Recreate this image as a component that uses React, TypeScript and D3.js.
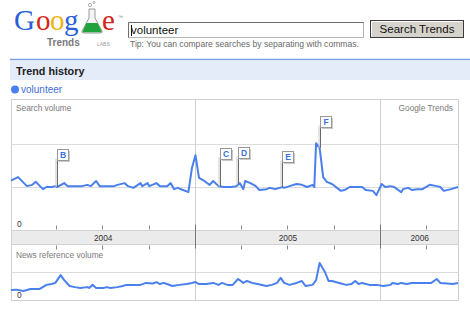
import React from "react";
import * as d3 from "d3";

// Weekly samples: [weeks since 2004-01-03, relative volume]
const searchSeries: [number, number][] = [
  [0, 1.15], [2, 1.23], [4.5, 1.02], [6, 1.05], [7, 1.12], [9, 0.95], [10, 1.0],
  [11.5, 1.0], [12.5, 1.02], [13, 1.0], [15, 1.09], [16, 1.02], [18.5, 1.02],
  [20, 1.02], [21.5, 1.05], [22.5, 1.02], [24, 1.14], [25, 1.02], [27, 1.02],
  [29, 1.02], [30, 1.05], [32, 1.09], [33, 1.02], [34.5, 0.98], [36.5, 1.09],
  [37, 1.02], [38.5, 1.09], [39, 1.02], [41, 1.09], [42, 1.02], [44, 1.02],
  [45, 1.09], [46, 0.95], [47, 0.98], [48.5, 0.93], [50, 0.88], [51, 1.44],
  [52, 1.74], [53, 1.21], [54.5, 1.14], [56, 1.05], [57, 1.14], [58.5, 1.02],
  [60, 1.0], [62, 1.0], [63.5, 1.02], [64.5, 1.09], [65.5, 0.95], [66, 1.14],
  [67.5, 1.09], [69, 1.02], [70, 0.93], [72, 0.95], [73, 0.98], [74.5, 0.95],
  [76.5, 1.0], [77, 0.98], [78.5, 1.02], [80.5, 1.07], [82, 1.05], [83.5, 1.0],
  [85, 1.05], [85.5, 1.0], [86, 2.02], [87, 1.91], [88, 1.23], [89, 1.12],
  [90.5, 1.07], [93, 0.91], [94, 0.93], [95.5, 1.0], [97.5, 1.0], [99, 1.0],
  [100, 0.93], [102, 0.91], [103, 0.81], [104.5, 1.07], [105.5, 1.0], [107, 1.02],
  [108, 1.0], [110, 0.88], [110.5, 0.95], [112, 0.98], [113, 0.93], [114.5, 0.95],
  [116, 0.95], [118, 1.05], [120, 1.02], [121, 1.0], [122, 0.91], [124, 0.95],
  [126, 1.0],
];

const newsSeries: [number, number][] = [
  [0, 0.36], [1.5, 0.37], [3.5, 0.32], [5.5, 0.39], [8, 0.39], [10, 0.54],
  [11.5, 0.57], [12.5, 0.61], [14, 0.89], [15, 0.71], [16.5, 0.5], [18, 0.46],
  [19.5, 0.43], [21.5, 0.46], [22, 0.43], [23, 0.54], [24, 0.43], [26, 0.43],
  [27, 0.46], [28, 0.43], [30, 0.46], [31.5, 0.5], [32.5, 0.54], [34.5, 0.54],
  [36.5, 0.54], [38, 0.61], [40, 0.59], [41, 0.64], [42, 0.57], [43, 0.61],
  [44, 0.57], [45.5, 0.5], [47.5, 0.54], [49.5, 0.57], [51, 0.61], [52, 0.64],
  [53, 0.57], [55, 0.57], [57, 0.61], [58.5, 0.54], [59.5, 0.61], [61, 0.54],
  [62.5, 0.54], [64, 0.75], [65.5, 0.61], [66.5, 0.68], [68, 0.61], [69.5, 0.57],
  [72, 0.5], [73.5, 0.54], [75, 0.61], [76, 0.79], [77, 0.61], [78.5, 0.54],
  [80.5, 0.61], [82, 0.68], [83, 0.5], [85, 0.54], [86, 0.71], [87, 1.32],
  [88.5, 1.0], [89.5, 0.68], [90.5, 0.68], [92.5, 0.61], [94.5, 0.54], [96, 0.57],
  [97, 0.68], [98, 0.57], [99, 0.61], [101, 0.54], [103, 0.54], [105, 0.5],
  [107, 0.54], [107.5, 0.61], [109, 0.57], [110, 0.61], [111.5, 0.57], [113, 0.61],
  [114, 0.61], [116, 0.61], [118.5, 0.61], [120, 0.75], [121, 0.61], [123, 0.59],
  [124.5, 0.57], [126, 0.61],
];

// News headline markers
const flagLetters = ["B", "C", "D", "E", "F"];
const flagWeeks = [13, 59, 64, 76.5, 87];
const flagLevels = [1.88, 1.9, 1.92, 1.84, 2.65];

const yearLabels = [2004, 2005, 2006];
const searchGrid = [1, 2];
const newsGrid = [1];

const START = new Date(2004, 0, 3);
const END = new Date(2006, 5, 5);
const weekToDate = (w: number) => new Date(START.getTime() + w * 7 * 86400000);

const FONT = "'Liberation Sans', Arial, sans-serif";
const BLUE = "#4a80ee";

export default function App() {
  const W = 470;
  const H = 309;
  const left = 11;
  const right = 459;
  const boxTop = 99.5;
  const boxBottom = 300.5;
  const bandTop = 230.5;
  const bandBottom = 244.5;

  const x = d3.scaleTime().domain([START, END]).range([left, right]);
  const ySearch = d3.scaleLinear().domain([0, 3]).range([230, 101]);
  const yNews = d3.scaleLinear().domain([0, 2]).range([300, 244]);

  const searchLine = d3
    .line<[number, number]>()
    .x((d) => x(weekToDate(d[0])))
    .y((d) => ySearch(d[1]));
  const newsLine = d3
    .line<[number, number]>()
    .x((d) => x(weekToDate(d[0])))
    .y((d) => yNews(d[1]));

  const valueAt = (w: number) => {
    const i = d3.bisector((d: [number, number]) => d[0]).left(searchSeries, w);
    if (i <= 0) return searchSeries[0][1];
    if (i >= searchSeries.length) return searchSeries[searchSeries.length - 1][1];
    const a = searchSeries[i - 1];
    const b = searchSeries[i];
    const t = (w - a[0]) / (b[0] - a[0] || 1);
    return a[1] + (b[1] - a[1]) * t;
  };

  const yearStarts = yearLabels.map((y) => new Date(y, 0, 1));
  const dividers = yearStarts.filter((d) => d > START && d < END);
  const quarterTicks = d3.timeMonth
    .every(3)!
    .range(START, END)
    .filter((d) => d.getMonth() !== 0);

  const yearSpans = yearLabels.map((y) => {
    const a = Math.max(x(new Date(y, 0, 1)), left);
    const b = Math.min(x(new Date(y + 1, 0, 1)), right);
    return { y, cx: (a + b) / 2 };
  });

  return (
    <svg
      width={W}
      height={H}
      style={{ position: "absolute", left: 0, top: 0, background: "#fff" }}
      fontFamily={FONT}
    >
      {/* Logo */}
      <g fontFamily="'Liberation Serif', 'DejaVu Serif', serif" fontSize={29}>
        <text x={14} y={30} fill="#2a5fd8">G</text>
        <text x={36} y={30} fill="#d4261b">o</text>
        <text x={50} y={30} fill="#eeb211">o</text>
        <text x={64} y={30} fill="#2a5fd8">g</text>
        <text x={102} y={30} fill="#d4261b">e</text>
      </g>
      {/* flask */}
      <g>
        <path d="M89,9 L95,9 L95,18 L102,31 Q103,33 100,33 L84,33 Q81,33 82,31 L89,18 Z" fill="#f4f4f4" stroke="#9a9a9a" strokeWidth={1} />
        <path d="M86.5,23 L97.5,23 L101.5,31 Q102,32.3 100,32.3 L84,32.3 Q82,32.3 82.8,31 Z" fill="#1fa33a" />
        <circle cx={90} cy={5} r={1.6} fill="none" stroke="#9a9a9a" strokeWidth={0.8} />
        <circle cx={94} cy={2.5} r={1.1} fill="none" stroke="#9a9a9a" strokeWidth={0.8} />
      </g>
      <text x={118} y={19} fontSize={5} fill="#888">™</text>
      <text x={47} y={46} fontSize={10} fontWeight="bold" fill="#7a7a7a">Trends</text>
      <text x={97} y={46} fontSize={5} fill="#999">LABS</text>

      {/* Search form */}
      <rect x={128.5} y={22.5} width={235} height={15} fill="#fff" stroke="#b5b5b5" />
      <path d="M128.5,37.5 L128.5,22.5 L363.5,22.5" fill="none" stroke="#6e6e6e" />
      <text x={131} y={34} fontSize={11.5} fill="#111">volunteer</text>
      <line x1={131.5} x2={131.5} y1={25} y2={36} stroke="#111" strokeWidth={1} />
      <rect x={370.5} y={20.5} width={93} height={17} fill="#d6d3cc" stroke="#3c3c3c" />
      <path d="M371.5,36.5 L371.5,21.5 L462.5,21.5" fill="none" stroke="#fff" />
      <text x={417} y={33} fontSize={11.5} textAnchor="middle" fill="#111">Search Trends</text>
      <text x={130} y={47} fontSize={8.6} fill="#6a6a6a">
        Tip: You can compare searches by separating with commas.
      </text>

      {/* Section header */}
      <line x1={10} x2={470} y1={59.5} y2={59.5} stroke="#7b9ee0" strokeWidth={1.5} />
      <rect x={10} y={61} width={460} height={19} fill="#e5ecf9" />
      <text x={16} y={75} fontSize={10.8} fontWeight="bold" fill="#222">Trend history</text>
      <circle cx={15} cy={89.5} r={4} fill={BLUE} />
      <text x={21} y={93} fontSize={10} fill="#3f6ed8">volunteer</text>

      {/* Chart frame */}
      <rect x={left + 0.5} y={boxTop} width={right - left - 1} height={boxBottom - boxTop} fill="#fff" stroke="#cfcfcf" />
      {searchGrid.map((g) => (
        <line key={"sg" + g} x1={left} x2={right} y1={Math.round(ySearch(g)) + 0.5} y2={Math.round(ySearch(g)) + 0.5} stroke="#dcdcdc" />
      ))}
      {newsGrid.map((g) => (
        <line key={"ng" + g} x1={left} x2={right} y1={Math.round(yNews(g)) + 0.5} y2={Math.round(yNews(g)) + 0.5} stroke="#dcdcdc" />
      ))}
      <rect x={left + 0.5} y={bandTop} width={right - left - 1} height={bandBottom - bandTop} fill="#ebebeb" stroke="#d2d2d2" />
      {dividers.map((d, i) => (
        <g key={"dv" + i}>
          <line x1={Math.round(x(d)) + 0.5} x2={Math.round(x(d)) + 0.5} y1={boxTop} y2={boxBottom} stroke="#cfcfcf" />
          <line x1={Math.round(x(d)) + 0.5} x2={Math.round(x(d)) + 0.5} y1={bandTop - 6} y2={bandBottom + 4} stroke="#777" />
        </g>
      ))}
      {quarterTicks.map((d, i) => (
        <g key={"qt" + i} stroke="#888">
          <line x1={Math.round(x(d)) + 0.5} x2={Math.round(x(d)) + 0.5} y1={bandTop - 5} y2={bandTop - 1} />
          <line x1={Math.round(x(d)) + 0.5} x2={Math.round(x(d)) + 0.5} y1={bandBottom + 1} y2={bandBottom + 5} />
        </g>
      ))}
      {yearSpans.map((s) => (
        <text key={"yl" + s.y} x={s.cx} y={241} fontSize={8.3} textAnchor="middle" fill="#333">
          {s.y}
        </text>
      ))}

      <text x={16} y={110.5} fontSize={8.3} fill="#7a7a7a">Search volume</text>
      <text x={453} y={110.5} fontSize={8.3} fill="#7a7a7a" textAnchor="end">Google Trends</text>
      <text x={17} y={227} fontSize={8.3} fill="#333">0</text>
      <text x={16} y={258} fontSize={8.3} fill="#7a7a7a">News reference volume</text>
      <text x={17} y={298} fontSize={8.3} fill="#333">0</text>

      {/* Series */}
      <path d={searchLine(searchSeries) || ""} fill="none" stroke={BLUE} strokeWidth={2} strokeLinejoin="round" />
      <path d={newsLine(newsSeries) || ""} fill="none" stroke={BLUE} strokeWidth={2} strokeLinejoin="round" />

      {/* Headline flags */}
      {flagLetters.map((letter, i) => {
        const px = Math.round(x(weekToDate(flagWeeks[i]))) + 0.5;
        const top = Math.round(ySearch(flagLevels[i])) + 0.5;
        const bottom = ySearch(valueAt(flagWeeks[i]));
        const bw = 11;
        const bh = 11;
        return (
          <g key={letter}>
            <line x1={px - 1.5} x2={px - 1.5} y1={top + bh - 2} y2={bottom} stroke="#c8c8c8" />
            <line x1={px} x2={px} y1={top + bh} y2={bottom} stroke="#6a6a6a" />
            <rect x={px + 1.5} y={top + 1.5} width={bw} height={bh} fill="#c9c9c9" />
            <rect x={px} y={top} width={bw} height={bh} fill="#fff" stroke="#999" />
            <text x={px + bw / 2} y={top + 8.5} fontSize={8.5} fontWeight="bold" textAnchor="middle" fill="#3d6fe0">
              {letter}
            </text>
          </g>
        );
      })}
    </svg>
  );
}
